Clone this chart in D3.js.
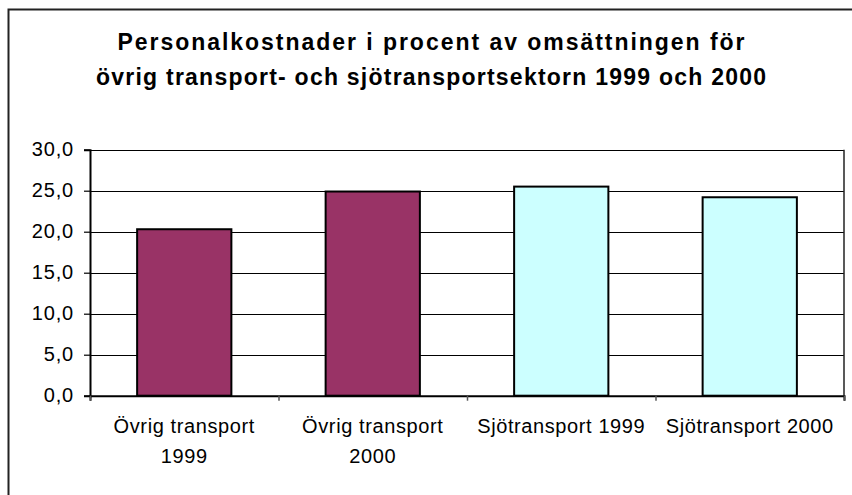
<!DOCTYPE html>
<html>
<head>
<meta charset="utf-8">
<script src="https://cdn.jsdelivr.net/npm/d3@7"></script>
<style>
  body { margin: 0; background: #fff; }
  svg { display: block; font-family: "Liberation Sans", Arial, sans-serif; }
</style>
</head>
<body>
<script>
// data
var categories = [["Övrig transport", "1999"], ["Övrig transport", "2000"], ["Sjötransport 1999"], ["Sjötransport 2000"]];
var values = [20.3, 24.9, 25.5, 24.2];
var barColors = ["#993366", "#993366", "#CCFFFF", "#CCFFFF"];
var yTicks = [0, 5, 10, 15, 20, 25, 30];
var titleLines = ["Personalkostnader i procent av omsättningen för", "övrig transport- och sjötransportsektorn 1999 och 2000"];

var svgWidth = 852, svgHeight = 495;
var plot = { left: 90, right: 844, top: 149.7, bottom: 395.7 };

var svg = d3.select("body").append("svg")
    .attr("width", svgWidth)
    .attr("height", svgHeight);

// outer chart border
svg.append("rect")
    .attr("x", 8.5).attr("y", 9.5)
    .attr("width", 852).attr("height", 495)
    .attr("fill", "#fff")
    .attr("stroke", "#222")
    .attr("stroke-width", 2);

// title (Excel spreads the letters out, so fit to the measured widths)
var titleWidths = [627, 670];
svg.append("g").selectAll("text")
    .data(titleLines)
    .enter().append("text")
    .attr("x", 431)
    .attr("y", (d, i) => 50 + i * 35)
    .attr("text-anchor", "middle")
    .attr("font-size", 23)
    .attr("font-weight", "bold")
    .attr("textLength", (d, i) => titleWidths[i])
    .attr("lengthAdjust", "spacing")
    .text(d => d);

// scales
var x = d3.scaleBand()
    .domain(d3.range(categories.length))
    .range([plot.left, plot.right])
    .paddingInner(0.5)
    .paddingOuter(0.25);
var xBand = d3.scaleBand()
    .domain(d3.range(categories.length))
    .range([plot.left, plot.right]);
var y = d3.scaleLinear()
    .domain([0, 30])
    .range([plot.bottom, plot.top]);

// gridlines
svg.append("g").selectAll("line")
    .data(yTicks.filter(d => d > 0))
    .enter().append("line")
    .attr("x1", plot.left).attr("x2", plot.right)
    .attr("y1", d => Math.round(y(d)) + 0.5).attr("y2", d => Math.round(y(d)) + 0.5)
    .attr("stroke", "#000")
    .attr("stroke-width", 1.2);

// right plot border
svg.append("line")
    .attr("x1", plot.right).attr("x2", plot.right)
    .attr("y1", plot.top).attr("y2", plot.bottom)
    .attr("stroke", "#222").attr("stroke-width", 1.5);

// bars
svg.append("g").selectAll("rect")
    .data(values)
    .enter().append("rect")
    .attr("x", (d, i) => x(i))
    .attr("y", d => y(d))
    .attr("width", x.bandwidth())
    .attr("height", d => y(0) - y(d))
    .attr("fill", (d, i) => barColors[i])
    .attr("stroke", "#000")
    .attr("stroke-width", 2);

// y axis
var leftAxis = d3.axisLeft(y)
    .tickValues(yTicks)
    .tickSize(6)
    .tickPadding(10)
    .tickFormat(d => d3.format(".1f")(d).replace(".", ","));
var yAxis = svg.append("g")
    .attr("transform", `translate(${plot.left}, 0)`)
    .call(leftAxis);
yAxis.select(".domain").attr("stroke", "#000").attr("stroke-width", 2);
yAxis.selectAll(".tick line").attr("stroke", "#000").attr("stroke-width", 1.2);
yAxis.selectAll("text")
    .attr("font-size", 20)
    .attr("font-family", "Liberation Sans, Arial, sans-serif")
    .attr("letter-spacing", 0.8)
    .attr("dy", "0.28em")
    .attr("fill", "#000");

// x axis: ticks at category boundaries
var bottomAxis = d3.axisBottom(d3.scaleLinear().domain([0, categories.length]).range([plot.left, plot.right]))
    .ticks(categories.length)
    .tickSize(5)
    .tickFormat("");
var xAxis = svg.append("g")
    .attr("transform", `translate(0, ${plot.bottom})`)
    .call(bottomAxis);
xAxis.select(".domain").attr("stroke", "#000").attr("stroke-width", 2);
xAxis.selectAll(".tick line").attr("stroke", "#555").attr("stroke-width", 1.5);

// category labels
var labels = svg.append("g").selectAll("text")
    .data(categories)
    .enter().append("text")
    .attr("x", (d, i) => xBand(i) + xBand.bandwidth() / 2)
    .attr("y", 433)
    .attr("text-anchor", "middle")
    .attr("font-size", 20)
    .attr("letter-spacing", 0.6)
    .attr("fill", "#000");
labels.selectAll("tspan")
    .data(d => d)
    .enter().append("tspan")
    .attr("x", function() { return d3.select(this.parentNode).attr("x"); })
    .attr("dy", (d, i) => i === 0 ? 0 : 30)
    .text(d => d);
</script>
</body>
</html>
